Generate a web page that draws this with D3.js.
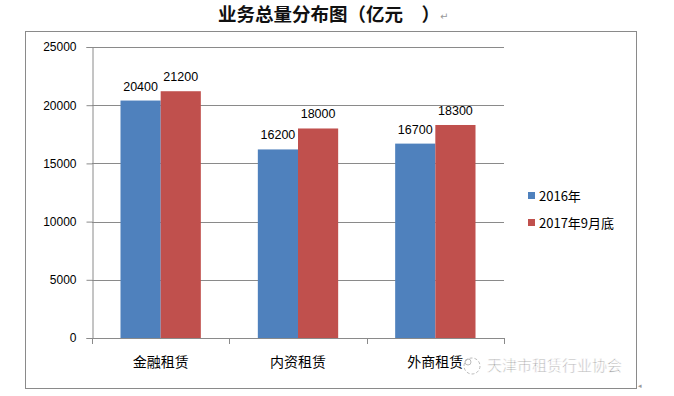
<!DOCTYPE html>
<html><head><meta charset="utf-8">
<script src="https://cdn.jsdelivr.net/npm/d3@7"></script>
<style>body{margin:0;background:#fff}svg{display:block}</style>
</head><body>
<script>
const categories = ["金融租赁", "内资租赁", "外商租赁"];
const seriesNames = ["2016年", "2017年9月底"];
const values2016 = [20400, 16200, 16700];
const values2017 = [21200, 18000, 18300];
const yTicks = [0, 5000, 10000, 15000, 20000, 25000];
const colors = ["#4F81BD", "#C0504D"];

(function () {
const W = 674, H = 396;
const svg = d3.select("body").append("svg").attr("width", W).attr("height", H);
const cjk = "'Noto Sans CJK SC', sans-serif";
const lat = "'Liberation Sans', 'DejaVu Sans', sans-serif";

// title
svg.append("text").attr("x", 218).attr("y", 21).attr("font-family", cjk)
  .attr("font-weight", "bold").attr("font-size", 18.5).attr("fill", "#111")
  .style("white-space", "pre")
  .text("业务总量分布图（亿元\u2002\u2002）");
svg.append("text").attr("x", 440).attr("y", 20).attr("font-family", lat)
  .attr("font-size", 10).attr("fill", "#999").text("↵");

// frame
svg.append("rect").attr("x", 25.5).attr("y", 31.5).attr("width", 611).attr("height", 357)
  .attr("fill", "none").attr("stroke", "#8a8a8a").attr("stroke-width", 1);
svg.append("text").attr("x", 638).attr("y", 388).attr("font-size", 7).attr("fill", "#999").text("◂");

const pl = 92, pr = 504, pt = 47, pb = 338;
const x0 = d3.scaleBand().domain(categories).range([pl, pr]).paddingInner(0.415).paddingOuter(0.2075);
const x1 = d3.scaleBand().domain(seriesNames).range([0, x0.bandwidth()]);
const y = d3.scaleLinear().domain([0, 25000]).range([pb, pt]);

// gridlines
svg.append("g").selectAll("line").data(yTicks.filter(d => d > 0)).join("line")
  .attr("x1", pl).attr("x2", pr)
  .attr("y1", d => Math.round(y(d)) + 0.5).attr("y2", d => Math.round(y(d)) + 0.5)
  .attr("stroke", "#8a8a8a");

// y axis
const yAxis = svg.append("g").attr("transform", `translate(${pl + 0.5},0)`)
  .call(d3.axisLeft(y).tickValues(yTicks).tickSize(6).tickPadding(10).tickFormat(d3.format("d")));
yAxis.select(".domain").attr("stroke", "#8a8a8a");
yAxis.selectAll(".tick line").attr("stroke", "#8a8a8a");
yAxis.selectAll("text").attr("font-family", lat).attr("font-size", 12).attr("fill", "#000");

// bars
const data = categories.map((c, i) => ({c, vals: [values2016[i], values2017[i]]}));
const g = svg.append("g");
data.forEach(d => {
  d.vals.forEach((v, j) => {
    const bx = x0(d.c) + x1(seriesNames[j]);
    g.append("rect").attr("x", bx).attr("y", y(v)).attr("width", x1.bandwidth())
      .attr("height", y(0) - y(v)).attr("fill", colors[j]);
    g.append("text").attr("x", bx + x1.bandwidth() / 2).attr("y", y(v) - 10)
      .attr("text-anchor", "middle").attr("font-family", lat).attr("font-size", 12.5)
      .attr("fill", "#000").text(v);
  });
});

// x axis
const xa = svg.append("g");
xa.append("line").attr("x1", pl).attr("x2", pr).attr("y1", pb + 0.5).attr("y2", pb + 0.5).attr("stroke", "#8a8a8a");
const bounds = [pl, ...categories.map(c => x0(c) + x0.bandwidth() + x0.step() * x0.paddingInner() / 2)];
xa.selectAll("line.t").data(bounds).join("line").attr("class", "t")
  .attr("x1", d => Math.round(d) + 0.5).attr("x2", d => Math.round(d) + 0.5)
  .attr("y1", pb).attr("y2", pb + 6).attr("stroke", "#8a8a8a");
svg.append("g").selectAll("text").data(categories).join("text")
  .attr("x", d => x0(d) + x0.bandwidth() / 2).attr("y", 367)
  .attr("text-anchor", "middle").attr("font-family", cjk).attr("font-size", 14)
  .attr("fill", "#000").text(d => d);

// legend
const lg = svg.append("g");
seriesNames.forEach((s, i) => {
  lg.append("rect").attr("x", 528).attr("y", 192 + i * 27).attr("width", 7).attr("height", 7).attr("fill", colors[i]);
  lg.append("text").attr("x", 539).attr("y", 201 + i * 27).attr("font-family", cjk)
    .attr("font-size", 13).attr("fill", "#000").text(s);
});

// watermark
const wm = svg.append("g");
wm.append("circle").attr("cx", 472).attr("cy", 366).attr("r", 8).attr("fill", "#fff").attr("fill-opacity", 0.85)
  .attr("stroke", "#bbb").attr("stroke-width", 1).attr("stroke-dasharray", "3,2");
wm.append("circle").attr("cx", 468).attr("cy", 362).attr("r", 3).attr("fill", "none").attr("stroke", "#bbb");
wm.append("text").attr("x", 487).attr("y", 371).attr("font-family", cjk).attr("font-size", 15)
  .attr("fill", "#9a9a9a").attr("stroke", "#fff").attr("stroke-width", 0.6)
  .text("天津市租赁行业协会");
})();
</script>
</body></html>
